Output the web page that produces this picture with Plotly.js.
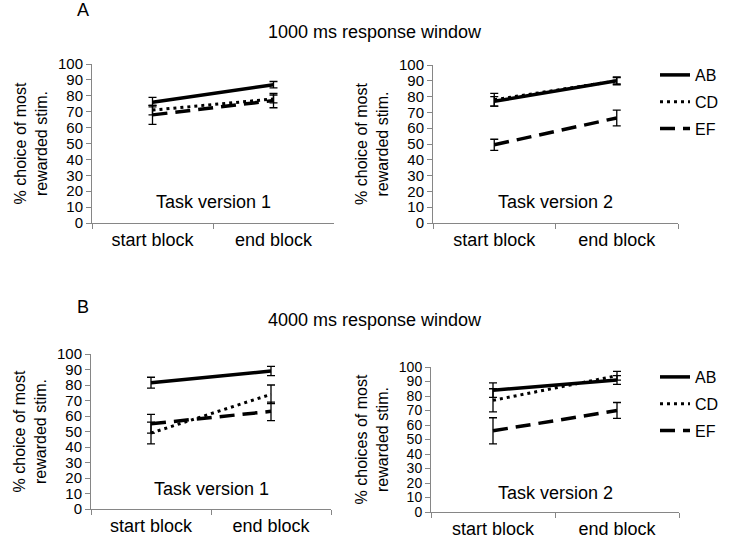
<!DOCTYPE html>
<html>
<head>
<meta charset="utf-8">
<script src="https://cdn.plot.ly/plotly-3.0.1.min.js"></script>
<style>html,body{margin:0;padding:0;background:#fff;}#chart{width:730px;height:541px;}</style>
</head>
<body>
<div id="chart"></div>
<script>
// ---- Data ----
const blocks = ["start block", "end block"];
const seriesNames = ["AB", "CD", "EF"];

// Panel A (1000 ms), Task version 1
const a1_AB = [76, 87];   const a1_AB_err = [3, 2];
const a1_CD = [71, 78];   const a1_CD_err = [3, 2.5];
const a1_EF = [68, 77];   const a1_EF_err = [6, 4.5];
// Panel A (1000 ms), Task version 2
const a2_AB = [77, 90];   const a2_AB_err = [3, 2.5];
const a2_CD = [78, 90];   const a2_CD_err = [4, 2];
const a2_EF = [49.5, 66.5]; const a2_EF_err = [3.5, 5];
// Panel B (4000 ms), Task version 1
const b1_AB = [81.5, 89]; const b1_AB_err = [3.5, 3];
const b1_CD = [49, 74];   const b1_CD_err = [7, 6];
const b1_EF = [55, 63];   const b1_EF_err = [6, 6];
// Panel B (4000 ms), Task version 2
const b2_AB = [84, 91];   const b2_AB_err = [5, 3];
const b2_CD = [77, 94];   const b2_CD_err = [8, 3];
const b2_EF = [56, 70];   const b2_EF_err = [9, 5.5];

const yTicks = [0,10,20,30,40,50,60,70,80,90,100];

// ---- Styles ----
const lineStyles = {
  AB: {color: "#000", width: 3.5, dash: "solid"},
  CD: {color: "#000", width: 3, dash: "3px,4px"},
  EF: {color: "#000", width: 3.5, dash: "15px,8px"}
};
const FONT = "Arial, 'Liberation Sans', sans-serif";

function tr(name, y, err, xa, ya, legend, show) {
  return {
    type: "scatter", mode: "lines", name: name,
    x: blocks, y: y,
    xaxis: xa, yaxis: ya,
    line: lineStyles[name],
    error_y: {type: "data", array: err, visible: true, color: "#000", thickness: 1.3, width: 4},
    showlegend: show, legend: legend, legendgroup: legend + name,
    hoverinfo: "skip"
  };
}

const data = [
  tr("AB", a1_AB, a1_AB_err, "x", "y", "legend", false),
  tr("CD", a1_CD, a1_CD_err, "x", "y", "legend", false),
  tr("EF", a1_EF, a1_EF_err, "x", "y", "legend", false),
  tr("AB", a2_AB, a2_AB_err, "x2", "y2", "legend", true),
  tr("CD", a2_CD, a2_CD_err, "x2", "y2", "legend", true),
  tr("EF", a2_EF, a2_EF_err, "x2", "y2", "legend", true),
  tr("AB", b1_AB, b1_AB_err, "x3", "y3", "legend2", false),
  tr("CD", b1_CD, b1_CD_err, "x3", "y3", "legend2", false),
  tr("EF", b1_EF, b1_EF_err, "x3", "y3", "legend2", false),
  tr("AB", b2_AB, b2_AB_err, "x4", "y4", "legend2", true),
  tr("CD", b2_CD, b2_CD_err, "x4", "y4", "legend2", true),
  tr("EF", b2_EF, b2_EF_err, "x4", "y4", "legend2", true)
];

const W = 730, H = 541;
function xd(a, b) { return [a / W, b / W]; }
function yd(bottom, top) { return [1 - bottom / H, 1 - top / H]; }

function xAxis(dom, anchor) {
  return {
    domain: dom, anchor: anchor, type: "category", range: [-0.5, 1.5],
    tickson: "boundaries", ticks: "outside", ticklen: 5, tickcolor: "#868686",
    showline: true, linecolor: "#868686", linewidth: 1,
    showgrid: false, zeroline: false,
    tickfont: {family: FONT, size: 18, color: "#000"}, fixedrange: true
  };
}
function yAxis(dom, anchor, titleText, tickSize) {
  return {
    domain: dom, anchor: anchor, range: [0, 100],
    tickvals: yTicks, ticktext: yTicks.map(String),
    ticks: "outside", ticklen: 5, tickcolor: "#868686",
    showline: true, linecolor: "#868686", linewidth: 1,
    showgrid: false, zeroline: false,
    tickfont: {family: FONT, size: tickSize, color: "#000"},
    title: {text: titleText, font: {family: FONT, size: 16, color: "#000"}, standoff: 6},
    fixedrange: true
  };
}

const yTitle1 = "% choice of most<br>rewarded stim.";
const yTitle2 = "% choices of most<br>rewarded stim.";

function ann(text, x, y, size) {
  return {text: text, xref: "paper", yref: "paper", x: x / W, y: 1 - y / H,
          xanchor: "center", yanchor: "middle", showarrow: false,
          font: {family: FONT, size: size, color: "#000"}};
}
function taskAnn(text, xa, ya) {
  return {text: text, xref: xa + " domain", yref: ya + " domain", x: 0.5, y: 0.13,
          xanchor: "center", yanchor: "middle", showarrow: false,
          font: {family: FONT, size: 18, color: "#000"}};
}

const layout = {
  width: W, height: H,
  margin: {l: 0, r: 0, t: 0, b: 0},
  paper_bgcolor: "#fff", plot_bgcolor: "#fff",
  font: {family: FONT, color: "#000"},
  xaxis: xAxis(xd(92, 334), "y"),
  yaxis: yAxis(yd(223, 64), "x", yTitle1, 15),
  xaxis2: xAxis(xd(433, 678), "y2"),
  yaxis2: yAxis(yd(223, 65), "x2", yTitle1, 15),
  xaxis3: xAxis(xd(91, 331), "y3"),
  yaxis3: yAxis(yd(509, 354), "x3", yTitle1, 15),
  xaxis4: xAxis(xd(431, 679), "y4"),
  yaxis4: yAxis(yd(512, 367), "x4", yTitle2, 14),
  legend: {x: 655 / W, y: 1 - 58 / H, xanchor: "left", yanchor: "top",
           font: {family: FONT, size: 16, color: "#000"}, bgcolor: "rgba(0,0,0,0)",
           tracegroupgap: 3, itemclick: false, itemdoubleclick: false},
  legend2: {x: 655 / W, y: 1 - 360 / H, xanchor: "left", yanchor: "top",
           font: {family: FONT, size: 16, color: "#000"}, bgcolor: "rgba(0,0,0,0)",
           tracegroupgap: 3, itemclick: false, itemdoubleclick: false},
  annotations: [
    ann("A", 83, 10, 18),
    ann("1000 ms response window", 375, 32, 18),
    ann("B", 83, 307, 18),
    ann("4000 ms response window", 375, 320, 18),
    taskAnn("Task version 1", "x", "y"),
    taskAnn("Task version 2", "x2", "y2"),
    taskAnn("Task version 1", "x3", "y3"),
    taskAnn("Task version 2", "x4", "y4")
  ],
  showlegend: true
};

Plotly.newPlot("chart", data, layout, {displayModeBar: false, staticPlot: true});
</script>
</body>
</html>
